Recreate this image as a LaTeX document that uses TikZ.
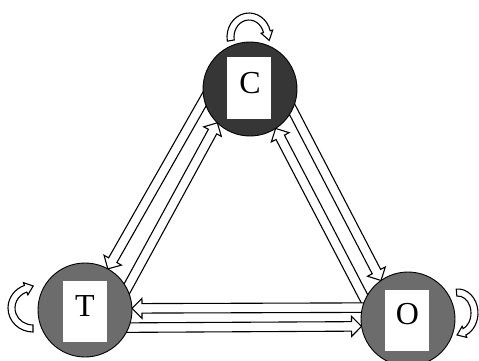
\documentclass[tikz,border=0pt]{standalone}
\usepackage{fontspec}
\setmainfont{Liberation Serif}
\usetikzlibrary{calc}
\pgfdeclarelayer{bg}
\pgfsetlayers{bg,main}
\definecolor{cdark}{RGB}{54,54,54}
\definecolor{cmid}{RGB}{108,108,108}
\newcommand\blockarrow[2]{%
  \draw[blk] let \p1=(#1), \p2=(#2),
    \n1={atan2(\y2-\y1,\x2-\x1)}, \n2={veclen(\x2-\x1,\y2-\y1)} in
    [shift={(\p1)}, rotate=\n1]
    (-6pt,-4.75pt) -- ({\n2*1pt-10pt},-4.75pt) -- ({\n2*1pt-10pt},-10pt)
    -- ({\n2*1pt},0pt) -- ({\n2*1pt-10pt},10pt) -- ({\n2*1pt-10pt},4.75pt)
    -- (-6pt,4.75pt) -- cycle;}
\begin{document}
\begin{tikzpicture}[x=1pt,y=-1pt,
  blk/.style={draw=black,fill=white,line width=1.1pt,line join=miter},
  circ/.style={circle,draw=black,line width=0.9pt,minimum size=94pt,inner sep=0pt,outer sep=0pt},
  box/.style={rectangle,fill=white,minimum width=44pt,minimum height=61pt,inner sep=0pt},
  lbl/.style={inner sep=0pt,font=\fontsize{32}{38}\selectfont}]
\useasboundingbox (0,0) rectangle (479,361);
% circles
\node[circ,fill=cdark] (C) at (250,89) {};
\node[circ,fill=cmid] (T) at (85,310) {};
\node[circ,fill=cmid] (O) at (408,319) {};
\node[box] (Cb) at (249,88) {};
\node[box] (Tb) at (84.5,311.5) {};
\node[box] (Ob) at (406.5,320) {};
\node[lbl] (Ct) at (250,83.5) {C};
\node[lbl] (Tt) at (85,306) {T};
\node[lbl] (Ot) at (407.5,314) {O};
\begin{pgfonlayer}{bg}
% C - T pair
\blockarrow{C.193.8}{T.61.3}
\blockarrow{T.27.6}{C.226.8}
% C - O pair
\blockarrow{C.334.5}{O.125.0}
\blockarrow{O.156.0}{C.303.7}
% T - O pair
\blockarrow{O.166.5}{T.2.4}
\blockarrow{T.338.8}{O.189.8}
\end{pgfonlayer}
% self loops
\coordinate (Cl) at ($(C)+(-1,-52)$);
\coordinate (Tl) at ($(T)+(-52,-2)$);
\coordinate (Ol) at ($(O)+(50,-6)$);
\draw[blk,shift={(Cl)}] (170:22 and 24) arc[start angle=170,end angle=345,x radius=22,y radius=24]
  -- (345:24.5 and 26.5) -- ([shift={(75:9)}]345:18.5 and 20.5) -- (345:12.5 and 14.5)
  -- (345:15 and 17) arc[start angle=345,end angle=170,x radius=15,y radius=17] -- cycle;
\draw[blk,shift={(Tl)}] (90:25 and 24) arc[start angle=90,end angle=250,x radius=25,y radius=24]
  -- (250:28 and 27) -- ([shift={(340:8)}]250:21.5 and 20.5) -- (250:15 and 14)
  -- (250:18 and 17) arc[start angle=250,end angle=90,x radius=18,y radius=17] -- cycle;
\draw[blk,shift={(Ol)}] (265:20 and 24) arc[start angle=265,end angle=427,x radius=20,y radius=24]
  -- (427:22.5 and 26.5) -- ([shift={(157:8)}]427:16.5 and 20.5) -- (427:10.5 and 14.5)
  -- (427:13 and 17) arc[start angle=427,end angle=265,x radius=13,y radius=17] -- cycle;
\end{tikzpicture}
\end{document}
